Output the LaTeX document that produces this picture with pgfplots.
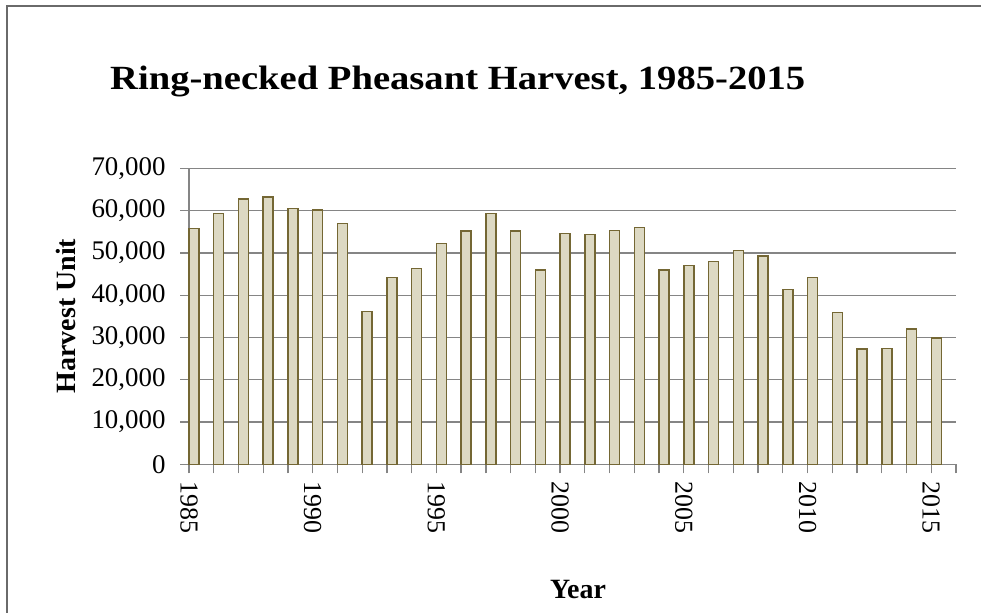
\documentclass[border=0pt]{standalone}
\usepackage{fontspec}
\setmainfont{Liberation Serif}
\usepackage{graphicx}
\usepackage{pgfplots}
\pgfplotsset{compat=1.18}
\definecolor{barfill}{HTML}{DDD9C3}
\definecolor{baredge}{HTML}{746734}
\definecolor{gridc}{HTML}{858585}
\definecolor{framec}{HTML}{6A6A6A}
\pgfplotstableread{
year value
1985 55800
1986 59300
1987 62700
1988 63200
1989 60500
1990 60100
1991 56900
1992 36100
1993 44200
1994 46300
1995 52200
1996 55200
1997 59300
1998 55200
1999 45900
2000 54600
2001 54300
2002 55300
2003 56000
2004 46000
2005 47000
2006 47900
2007 50600
2008 49300
2009 41300
2010 44200
2011 35900
2012 27300
2013 27400
2014 32000
2015 29900
}\harvest
\begin{document}
\begin{tikzpicture}
\useasboundingbox (0,0) rectangle (981bp,613bp);
\draw[framec, line width=2bp] (6.5bp,0) -- (6.5bp,606.5bp) -- (981bp,606.5bp);
\node[anchor=base west, inner sep=0pt] at (110bp,523bp) {\scalebox{1.14}[1]{\fontsize{34}{40}\selectfont\bfseries Ring-necked Pheasant Harvest, 1985-2015}};
\begin{axis}[
  at={(189bp,148.7bp)}, anchor=south west,
  scale only axis, width=767bp, height=296bp,
  xmin=1985, xmax=2016, ymin=0, ymax=70000,
  axis x line*=bottom, axis y line*=left,
  axis line style={gridc, line width=1.3bp, -},
  ymajorgrids, grid style={gridc, line width=1.3bp},
  xtick={1985,...,2016},
  xticklabels={1985,,,,,1990,,,,,1995,,,,,2000,,,,,2005,,,,,2010,,,,,2015,},
  ytick={0,10000,...,70000},
  major tick length=9bp, tick align=outside,
  tick style={gridc, line width=1.3bp},
  /pgf/number format/assume math mode=true,
  /pgf/number format/1000 sep={,},
  scaled y ticks=false,
  yticklabel shift=11bp,
  xticklabel shift=5bp,
  yticklabel style={font=\fontsize{27}{30}\selectfont, /pgf/number format/fixed},
  xticklabel style={font=\fontsize{26}{30}\selectfont, rotate=-90, anchor=west},
  clip=false,
]
\addplot[ybar, bar width=10bp, bar shift=5bp, fill=barfill, draw=baredge, line width=1.5bp] table[x=year, y=value] {\harvest};
\end{axis}
\node[rotate=90, font=\fontsize{28}{32}\selectfont\bfseries] at (66bp,297bp) {Harvest Unit};
\node[font=\fontsize{28}{32}\selectfont\bfseries] at (578bp,23bp) {Year};
\end{tikzpicture}
\end{document}
